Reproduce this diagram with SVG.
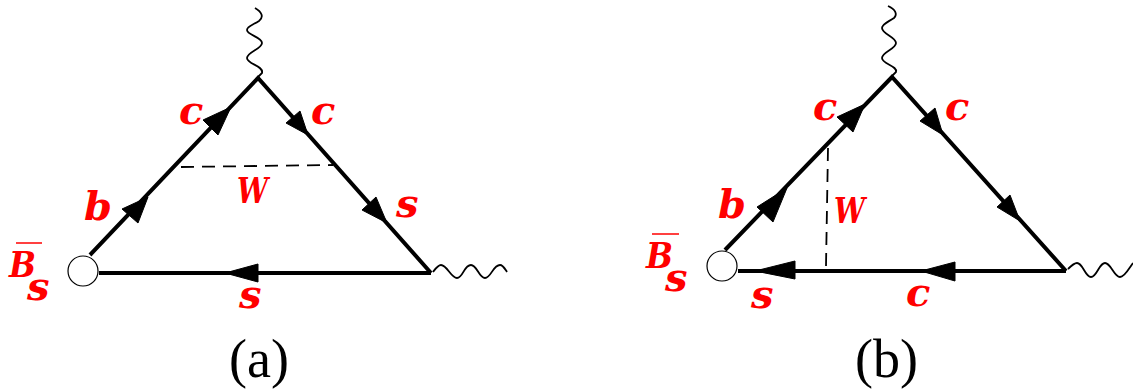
<svg xmlns="http://www.w3.org/2000/svg" width="1133" height="390" viewBox="0 0 1133 390">
<style>
.q{stroke:#000;stroke-width:4;fill:none}
.h{fill:#000;stroke:#000;stroke-width:1;stroke-linejoin:miter}
.w{stroke:#000;stroke-width:1.8;fill:none}
.d{stroke:#000;stroke-width:1.8;fill:none;stroke-dasharray:13 8}
.v{fill:#fff;stroke:#000;stroke-width:1.2}
.l{font-family:"DejaVu Serif",serif;font-weight:bold;font-style:italic;font-size:40px;fill:#f00}
.m{font-size:35px}
.o{stroke:#f00;stroke-width:1.5}
.t{font-family:"Liberation Serif",serif;font-size:54px;fill:#000}
</style>
<rect width="1133" height="390" fill="#fff"/>
<g id="connectors">
<g id="connectors-a">
<path class="q" d="M90 255L258 78L431 273M99 273H431"/>
<path class="d" d="M181 167L333 165"/>
<path class="w" d="M255 8C262 12 264 17 259 21C253 25 247 26 247 30C247 35 262 37 262 43C262 49 247 52 247 58C247 64 264 66 262 73L258 77"/>
<path class="w" d="M433 272C436 268 438 265 441 265C447 265 451 278 457 278C463 278 464 265 471 265C477 265 479 278 485 278C491 278 493 265 500 265C503 265 505 269 507 272"/>
<path class="h" d="M231 107L203 120L218 135Z"/>
<path class="h" d="M148 197L122 209L138 223Z"/>
<path class="h" d="M308 135L286 123L300 111Z"/>
<path class="h" d="M387 223L362 210L376 197Z"/>
<path class="h" d="M225 273L258 264V282Z"/>
</g>
<g id="connectors-b">
<path class="q" d="M725 250L892 77L1066 271M738 271H1066"/>
<path class="d" d="M828 148L826 266"/>
<path class="w" d="M888 6C895 9 898 14 894 18C888 22 882 24 882 28C882 34 896 37 896 43C896 49 882 52 882 58C882 64 898 66 896 72L892 76"/>
<path class="w" d="M1068 269C1071 266 1074 263 1077 263C1083 263 1085 277 1091 277C1097 277 1099 263 1105 263C1111 263 1114 277 1120 277C1125 277 1129 268 1133 263"/>
<path class="h" d="M865 104L837 117L853 132Z"/>
<path class="h" d="M787 188L757 207L773 222Z"/>
<path class="h" d="M943 135L920 121L935 108Z"/>
<path class="h" d="M1020 221L997 207L1010 195Z"/>
<path class="h" d="M921 271L955 262V281Z"/>
<path class="h" d="M755 271L795 261V279Z"/>
</g>
</g>
<g id="node-a"><circle class="v" cx="83" cy="271" r="15"/></g>
<g id="node-b"><circle class="v" cx="722" cy="266" r="15"/></g>
<g id="labels-a">
<text class="l" x="179" y="124">c</text>
<text class="l" x="311" y="124">c</text>
<text class="l" x="396" y="217">s</text>
<text class="l" x="84" y="220">b</text>
<text class="l m" x="237" y="203" textLength="31" lengthAdjust="spacingAndGlyphs">W</text>
<text class="l" x="239" y="308">s</text>
<text class="l m" x="9" y="277" textLength="27" lengthAdjust="spacingAndGlyphs">B</text>
<line class="o" x1="16" y1="243" x2="42" y2="243"/>
<text class="l" x="27" y="300">s</text>
<text class="t" x="229" y="377">(a)</text>
</g>
<g id="labels-b">
<text class="l" x="813" y="120">c</text>
<text class="l" x="945" y="120">c</text>
<text class="l" x="718" y="218">b</text>
<text class="l m" x="834" y="223" textLength="31" lengthAdjust="spacingAndGlyphs">W</text>
<text class="l m" x="646" y="268" textLength="27" lengthAdjust="spacingAndGlyphs">B</text>
<line class="o" x1="652" y1="234" x2="679" y2="234"/>
<text class="l" x="665" y="291">s</text>
<text class="l" x="751" y="308">s</text>
<text class="l" x="906" y="306">c</text>
<text class="t" x="855" y="377">(b)</text>
</g>
</svg>
